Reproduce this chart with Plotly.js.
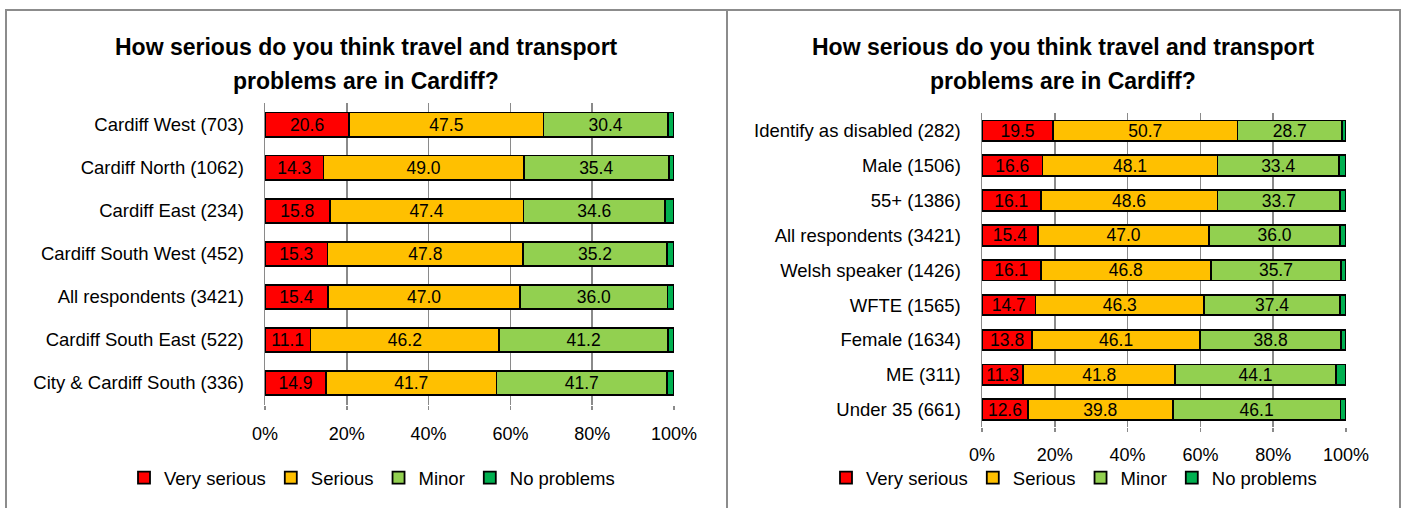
<!DOCTYPE html>
<html>
<head>
<meta charset="utf-8">
<script src="https://cdn.plot.ly/plotly-3.0.1.min.js"></script>
<style>html,body{margin:0;padding:0;background:#fff;}#chart{width:1407px;height:508px;}</style>
</head>
<body>
<div id="chart"></div>
<script>
// ---- Data (percentages) ----
const titleLine1 = "How serious do you think travel and transport";
const titleLine2 = "problems are in Cardiff?";
const seriesNames = ["Very serious", "Serious", "Minor", "No problems"];
const seriesColors = ["#FF0000", "#FFC000", "#92D050", "#00B050"];

// Left chart: by area
const areaCategories = ["Cardiff West (703)", "Cardiff North (1062)", "Cardiff East (234)", "Cardiff South West (452)", "All respondents (3421)", "Cardiff South East (522)", "City & Cardiff South (336)"];
const areaVerySerious = [20.6, 14.3, 15.8, 15.3, 15.4, 11.1, 14.9];
const areaSerious     = [47.5, 49.0, 47.4, 47.8, 47.0, 46.2, 41.7];
const areaMinor       = [30.4, 35.4, 34.6, 35.2, 36.0, 41.2, 41.7];
const areaNoProblems  = [1.5, 1.3, 2.2, 1.7, 1.6, 1.5, 1.7];

// Right chart: by group
const groupCategories = ["Identify as disabled (282)", "Male (1506)", "55+ (1386)", "All respondents (3421)", "Welsh speaker (1426)", "WFTE (1565)", "Female (1634)", "ME (311)", "Under 35 (661)"];
const groupVerySerious = [19.5, 16.6, 16.1, 15.4, 16.1, 14.7, 13.8, 11.3, 12.6];
const groupSerious     = [50.7, 48.1, 48.6, 47.0, 46.8, 46.3, 46.1, 41.8, 39.8];
const groupMinor       = [28.7, 33.4, 33.7, 36.0, 35.7, 37.4, 38.8, 44.1, 46.1];
const groupNoProblems  = [1.1, 1.9, 1.6, 1.6, 1.4, 1.6, 1.3, 2.8, 1.5];

const xTickVals = [0, 20, 40, 60, 80, 100];
const xTickText = ["0%", "20%", "40%", "60%", "80%", "100%"];

// ---- Build ----
const W = 1407, H = 508;
const px = v => v / W;
const py = v => 1 - v / H;
const FONT = "Liberation Sans, Arial, sans-serif";

function makeTraces(cats, seriesVals, xa, ya, legendId, barWidth) {
  return seriesVals.map((vals, i) => ({
    type: "bar",
    orientation: "h",
    name: seriesNames[i],
    x: vals,
    y: cats,
    xaxis: xa,
    yaxis: ya,
    legend: legendId,
    width: barWidth,
    marker: {color: seriesColors[i], line: {color: "#000000", width: 1.8}},
    texttemplate: i < 3 ? "%{x:.1f}" : "",
    textposition: i < 3 ? "inside" : "none",
    insidetextanchor: "middle",
    textangle: 0,
    constraintext: "none",
    textfont: {family: FONT, size: 17.5, color: "#000000"},
    hoverinfo: "name+x"
  }));
}

const traces = [
  ...makeTraces(areaCategories, [areaVerySerious, areaSerious, areaMinor, areaNoProblems], "x", "y", "legend", 0.56),
  ...makeTraces(groupCategories, [groupVerySerious, groupSerious, groupMinor, groupNoProblems], "x2", "y2", "legend2", 0.59)
];

const xAxisCommon = {
  range: [0, 100],
  tickvals: xTickVals,
  ticktext: xTickText,
  showgrid: true,
  gridcolor: "#8a8a8a",
  gridwidth: 1.5,
  zeroline: false,
  showline: false,
  ticks: "outside",
  ticklen: 4,
  tickcolor: "#8a8a8a",
  tickwidth: 1.5,
  tickfont: {family: FONT, size: 18, color: "#000000"},
  fixedrange: true
};
const yAxisCommon = {
  type: "category",
  autorange: "reversed",
  showgrid: false,
  zeroline: false,
  showline: true,
  linecolor: "#8a8a8a",
  linewidth: 1.5,
  ticks: "",
  ticklabelstandoff: 16,
  tickfont: {family: FONT, size: 18.5, color: "#000000"},
  fixedrange: true
};

const layout = {
  width: W, height: H,
  margin: {l: 0, r: 0, t: 0, b: 0},
  paper_bgcolor: "#ffffff",
  plot_bgcolor: "rgba(0,0,0,0)",
  barmode: "stack",
  font: {family: FONT, color: "#000000"},
  xaxis: Object.assign({}, xAxisCommon, {domain: [px(265), px(674)], anchor: "y", ticklabelstandoff: 9}),
  yaxis: Object.assign({}, yAxisCommon, {domain: [py(404.5), py(103)], anchor: "x", categoryarray: areaCategories}),
  xaxis2: Object.assign({}, xAxisCommon, {domain: [px(982), px(1346)], anchor: "y2", ticklabelstandoff: 7}),
  yaxis2: Object.assign({}, yAxisCommon, {domain: [py(427), py(113.4)], anchor: "x2", categoryarray: groupCategories}),
  legend: {
    orientation: "h", x: px(372), xanchor: "center", y: py(478), yanchor: "middle",
    font: {family: FONT, size: 18.5, color: "#000000"}, traceorder: "normal",
    bgcolor: "rgba(0,0,0,0)", itemclick: false, itemdoubleclick: false
  },
  legend2: {
    orientation: "h", x: px(1074), xanchor: "center", y: py(478), yanchor: "middle",
    font: {family: FONT, size: 18.5, color: "#000000"}, traceorder: "normal",
    bgcolor: "rgba(0,0,0,0)", itemclick: false, itemdoubleclick: false
  },
  annotations: [
    {text: "<b>" + titleLine1 + "</b>", xref: "paper", yref: "paper", x: px(366), y: py(47), xanchor: "center", yanchor: "middle", showarrow: false, font: {family: FONT, size: 23, color: "#000000"}},
    {text: "<b>" + titleLine2 + "</b>", xref: "paper", yref: "paper", x: px(366), y: py(81), xanchor: "center", yanchor: "middle", showarrow: false, font: {family: FONT, size: 23, color: "#000000"}},
    {text: "<b>" + titleLine1 + "</b>", xref: "paper", yref: "paper", x: px(1063), y: py(47), xanchor: "center", yanchor: "middle", showarrow: false, font: {family: FONT, size: 23, color: "#000000"}},
    {text: "<b>" + titleLine2 + "</b>", xref: "paper", yref: "paper", x: px(1063), y: py(81), xanchor: "center", yanchor: "middle", showarrow: false, font: {family: FONT, size: 23, color: "#000000"}}
  ],
  shapes: [
    {type: "rect", xref: "paper", yref: "paper", x0: px(6), x1: px(1400), y0: py(515), y1: py(10), line: {color: "#8c8c8c", width: 2}, fillcolor: "rgba(0,0,0,0)", layer: "below"},
    {type: "line", xref: "paper", yref: "paper", x0: px(727), x1: px(727), y0: py(515), y1: py(10), line: {color: "#8c8c8c", width: 2}, layer: "below"}
  ]
};

Plotly.newPlot("chart", traces, layout, {displayModeBar: false, staticPlot: true});
</script>
</body>
</html>
